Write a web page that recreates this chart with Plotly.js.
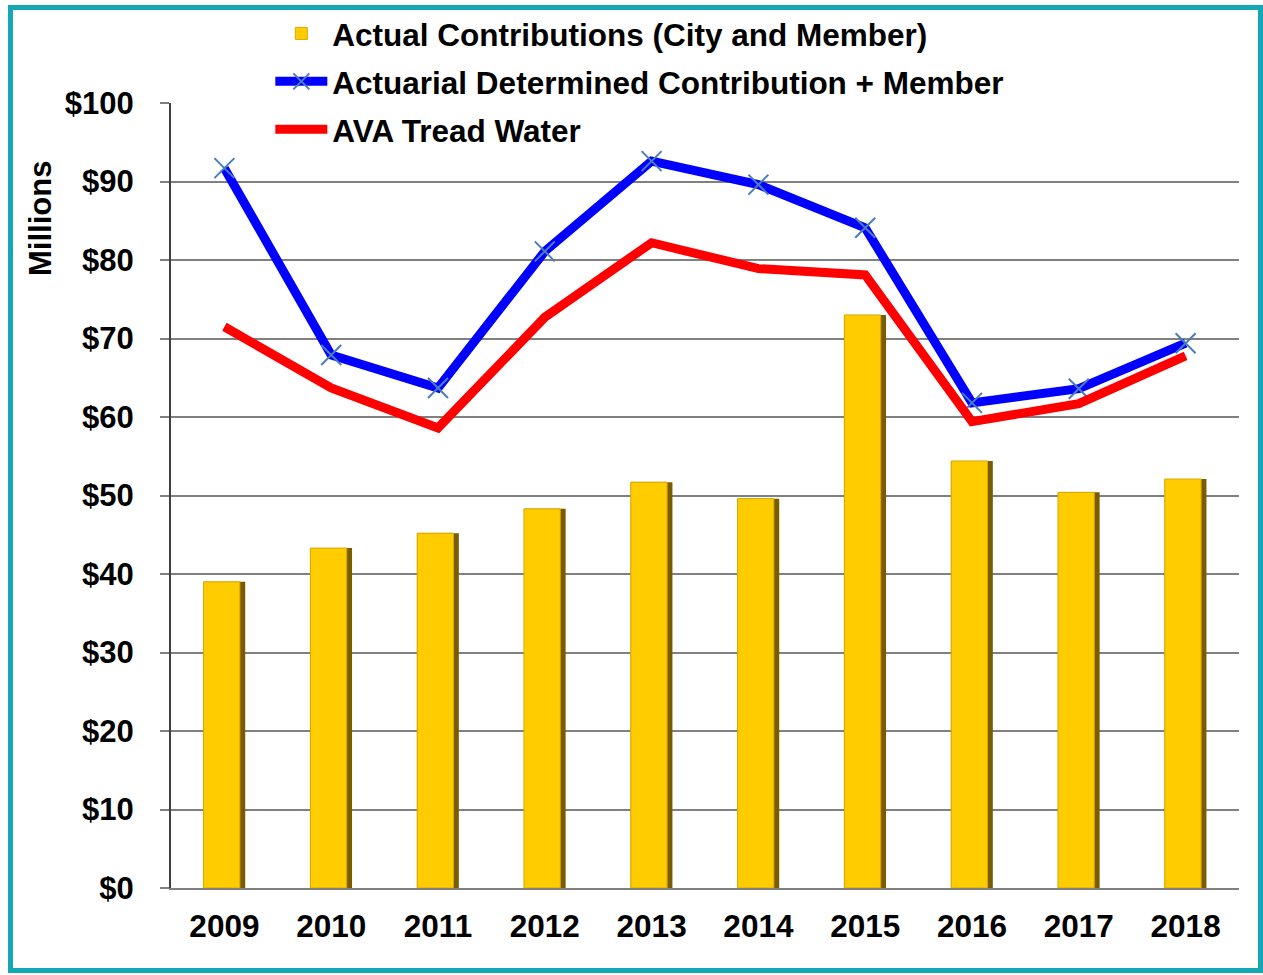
<!DOCTYPE html>
<html>
<head>
<meta charset="utf-8">
<script src="https://cdn.plot.ly/plotly-3.0.1.min.js"></script>
<style>
  body { margin: 0; background: #fff; }
  #wrap { position: relative; width: 1263px; height: 975px; }
  #chart { width: 1263px; height: 975px; }
  #frame {
    position: absolute; left: 8px; top: 5px; width: 1255px; height: 968px;
    box-sizing: border-box; border: 5px solid #14a7b6; pointer-events: none;
  }
</style>
</head>
<body>
<div id="wrap">
  <div id="chart"></div>
  <div id="frame"></div>
</div>
<script>
// values in $ millions
const years = ['2009', '2010', '2011', '2012', '2013', '2014', '2015', '2016', '2017', '2018'];
const actualContrib = [39.0, 43.3, 45.2, 48.3, 51.7, 49.6, 73.0, 54.4, 50.4, 52.1];
const adcPlusMember = [91.7, 67.9, 63.7, 81.1, 92.6, 89.6, 84.1, 61.8, 63.6, 69.4];
const avaTreadWater = [71.5, 63.7, 58.6, 72.7, 82.2, 78.9, 78.1, 59.4, 61.7, 67.8];

const fam = 'Liberation Sans, Arial, sans-serif';
const tickFont = { family: fam, size: 31, color: '#000', weight: 'bold' };

// bar drawn as a dark base with a gold face on top, gives the bevelled edge
const barShade = {
  type: 'bar',
  x: years,
  y: actualContrib,
  width: 0.39,
  offset: -0.195,
  marker: { color: '#7a5c00', line: { width: 0 } },
  showlegend: false,
  hoverinfo: 'skip'
};

const bars = {
  type: 'bar',
  name: 'Actual Contributions (City and Member)',
  legendgroup: 'a',
  x: years,
  y: actualContrib,
  width: 0.34,
  offset: -0.195,
  marker: { color: '#ffcc00', line: { color: '#d9a800', width: 1 } }
};

const adc = {
  type: 'scatter',
  mode: 'lines+markers',
  name: 'Actuarial Determined Contribution + Member',
  legendgroup: 'b',
  x: years,
  y: adcPlusMember,
  line: { color: '#0000ff', width: 9 },
  marker: { symbol: 'x-thin', size: 20, color: '#4a7ebb', line: { color: '#4a7ebb', width: 2 } }
};

const ava = {
  type: 'scatter',
  mode: 'lines',
  name: 'AVA Tread Water',
  legendgroup: 'c',
  x: years,
  y: avaTreadWater,
  line: { color: '#ff0000', width: 9 }
};

const layout = {
  width: 1263,
  height: 975,
  margin: { l: 171, r: 24, t: 103, b: 87, autoexpand: false },
  paper_bgcolor: '#fff',
  plot_bgcolor: '#fff',
  barmode: 'overlay',
  font: tickFont,
  showlegend: true,
  legend: {
    x: 0.093,
    y: 1.123,
    xanchor: 'left',
    yanchor: 'top',
    font: { family: fam, size: 31.5, color: '#000', weight: 'bold' },
    itemwidth: 52,
    traceorder: 'grouped',
    tracegroupgap: 4,
    bgcolor: 'rgba(0,0,0,0)'
  },
  xaxis: {
    type: 'category',
    range: [-0.5, 9.5],
    showgrid: false,
    showline: true,
    linecolor: '#808080',
    linewidth: 2,
    ticks: '',
    tickfont: { family: fam, size: 31.5, color: '#000', weight: 'bold' },
    ticklabelstandoff: 9
  },
  yaxis: {
    range: [0, 100],
    dtick: 10,
    tickprefix: '$',
    showgrid: true,
    gridcolor: '#808080',
    gridwidth: 2,
    showline: true,
    linecolor: '#404040',
    linewidth: 2,
    ticks: 'outside',
    ticklen: 9,
    tickcolor: '#808080',
    tickwidth: 2,
    tickfont: tickFont,
    ticklabelstandoff: 20,
    zeroline: false
  },
  annotations: [{
    text: 'Millions',
    xref: 'paper', yref: 'paper',
    x: -0.1227, y: 0.8535,
    xanchor: 'center', yanchor: 'middle',
    showarrow: false,
    textangle: -90,
    font: { family: fam, size: 31, color: '#000', weight: 'bold' }
  }]
};

Plotly.newPlot('chart', [barShade, bars, adc, ava], layout, { displayModeBar: false, staticPlot: true });
</script>
</body>
</html>
